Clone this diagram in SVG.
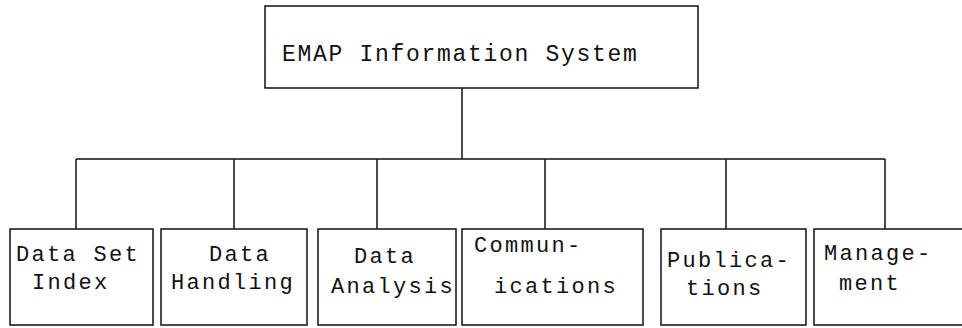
<svg xmlns="http://www.w3.org/2000/svg" width="962" height="328" viewBox="0 0 962 328">
<style>
.box{fill:#fff;stroke:#111;stroke-width:1.5}
.ln{fill:none;stroke:#111;stroke-width:1.5}
text{font-family:"Liberation Mono","DejaVu Sans Mono",monospace;font-size:22px;letter-spacing:2.3px;fill:#111}
.big{font-size:23px;letter-spacing:1.7px}
</style>
<rect width="962" height="328" fill="#fff"/>
<g id="connectors">
<path class="ln" d="M462 88V159M76 159H885M76 159V229M234 159V229M377 159V229M545 159V229M726 159V229M885 159V229"/>
</g>
<g id="root"><rect class="box" x="265" y="6" width="433" height="82"/><text class="big" x="282" y="61">EMAP Information System</text></g>
<g id="n1"><rect class="box" x="10" y="229" width="143" height="96"/><text x="16" y="261">Data Set</text><text x="32" y="289">Index</text></g>
<g id="n2"><rect class="box" x="161" y="229" width="146" height="96"/><text x="209" y="261">Data</text><text x="171" y="289">Handling</text></g>
<g id="n3"><rect class="box" x="318" y="229" width="138" height="96"/><text x="354" y="263">Data</text><text x="331" y="293">Analysis</text></g>
<g id="n4"><rect class="box" x="462" y="229" width="181" height="96"/><text x="474" y="252">Commun-</text><text x="494" y="293">ications</text></g>
<g id="n5"><rect class="box" x="661" y="229" width="145" height="96"/><text x="667" y="267">Publica-</text><text x="686" y="295">tions</text></g>
<g id="n6"><rect class="box" x="814" y="229" width="160" height="96"/><text x="824" y="260">Manage-</text><text x="839" y="290">ment</text></g>
</svg>
